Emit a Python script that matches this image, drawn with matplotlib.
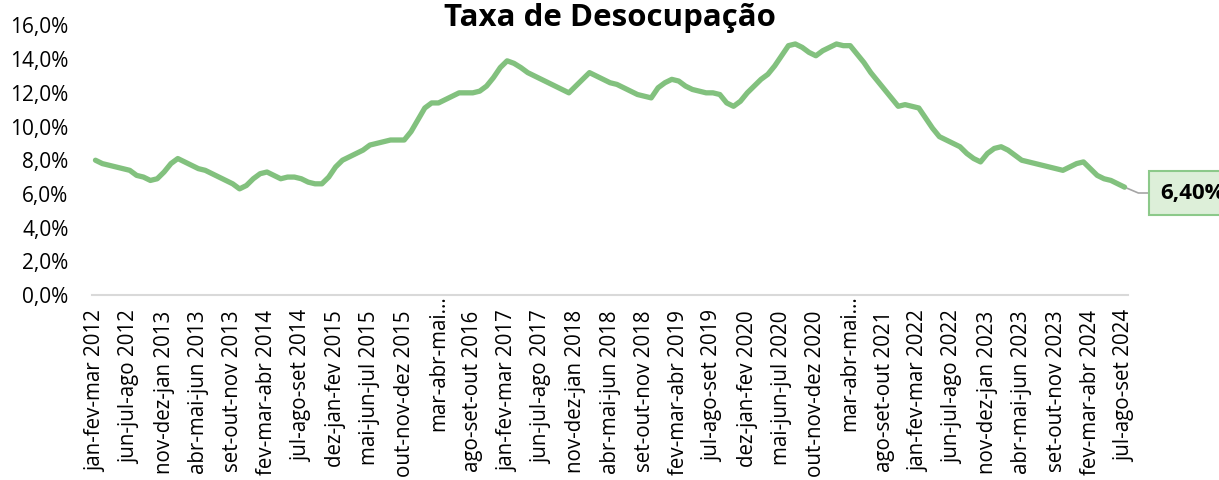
import numpy as np
import matplotlib
matplotlib.use("Agg")
import matplotlib.pyplot as plt
import matplotlib.transforms as mtransforms
from matplotlib.ticker import FuncFormatter

plt.rcParams['font.family'] = ['Open Sans', 'DejaVu Sans']

# taxa de desocupação, trimestres móveis (jan-fev-mar 2012 .. jul-ago-set 2024), em %
taxa = [
    # 2012 (mar..dez)
    8.0, 7.8, 7.7, 7.6, 7.5, 7.4, 7.1, 7.0, 6.8, 6.9,
    # 2013
    7.3, 7.8, 8.1, 7.9, 7.7, 7.5, 7.4, 7.2, 7.0, 6.8, 6.6, 6.3,
    # 2014
    6.5, 6.9, 7.2, 7.3, 7.1, 6.9, 7.0, 7.0, 6.9, 6.7, 6.6, 6.6,
    # 2015
    7.0, 7.6, 8.0, 8.2, 8.4, 8.6, 8.9, 9.0, 9.1, 9.2, 9.2, 9.2,
    # 2016
    9.7, 10.4, 11.1, 11.4, 11.4, 11.6, 11.8, 12.0, 12.0, 12.0, 12.1, 12.4,
    # 2017
    12.9, 13.5, 13.9, 13.75, 13.5, 13.2, 13.0, 12.8, 12.6, 12.4, 12.2, 12.0,
    # 2018
    12.4, 12.8, 13.2, 13.0, 12.8, 12.6, 12.5, 12.3, 12.1, 11.9, 11.8, 11.7,
    # 2019
    12.3, 12.6, 12.8, 12.7, 12.4, 12.2, 12.1, 12.0, 12.0, 11.9, 11.4, 11.2,
    # 2020
    11.5, 12.0, 12.4, 12.8, 13.1, 13.6, 14.2, 14.8, 14.9, 14.7, 14.4, 14.2,
    # 2021
    14.5, 14.7, 14.9, 14.8, 14.8, 14.3, 13.8, 13.2, 12.7, 12.2, 11.7, 11.2,
    # 2022
    11.3, 11.2, 11.1, 10.5, 9.9, 9.4, 9.2, 9.0, 8.8, 8.4, 8.1, 7.9,
    # 2023
    8.4, 8.7, 8.8, 8.6, 8.3, 8.0, 7.9, 7.8, 7.7, 7.6, 7.5, 7.4,
    # 2024 (jan..set)
    7.6, 7.8, 7.9, 7.5, 7.1, 6.9, 6.8, 6.6, 6.4,
]

rotulos = [
    'jan-fev-mar 2012', 'jun-jul-ago 2012', 'nov-dez-jan 2013', 'abr-mai-jun 2013',
    'set-out-nov 2013', 'fev-mar-abr 2014', 'jul-ago-set 2014', 'dez-jan-fev 2015',
    'mai-jun-jul 2015', 'out-nov-dez 2015', 'mar-abr-mai...', 'ago-set-out 2016',
    'jan-fev-mar 2017', 'jun-jul-ago 2017', 'nov-dez-jan 2018', 'abr-mai-jun 2018',
    'set-out-nov 2018', 'fev-mar-abr 2019', 'jul-ago-set 2019', 'dez-jan-fev 2020',
    'mai-jun-jul 2020', 'out-nov-dez 2020', 'mar-abr-mai...', 'ago-set-out 2021',
    'jan-fev-mar 2022', 'jun-jul-ago 2022', 'nov-dez-jan 2023', 'abr-mai-jun 2023',
    'set-out-nov 2023', 'fev-mar-abr 2024', 'jul-ago-set 2024',
]
passo = 5

x = np.arange(len(taxa))

fig = plt.figure(figsize=(12.19, 4.8), dpi=100)
ax = fig.add_axes([0.0755, 0.3854, 0.8499, 0.5616])

ax.plot(x, taxa, color='#82C17E', lw=3.8,
        solid_joinstyle='round', solid_capstyle='round', clip_on=False)

ax.set_xlim(-0.5, len(taxa) - 0.5)
ax.set_ylim(0, 16)
ax.set_yticks(np.arange(0, 17, 2))
ax.yaxis.set_major_formatter(FuncFormatter(lambda v, p: f'{v:.1f}%'.replace('.', ',')))
ax.set_xticks(x[::passo])
ax.set_xticklabels(rotulos, rotation=90)

for s in ['top', 'right', 'left']:
    ax.spines[s].set_visible(False)
ax.spines['bottom'].set_color('#D9D9D9')
ax.spines['bottom'].set_linewidth(1.5)
ax.tick_params(axis='both', length=0, colors='black')
ax.tick_params(axis='x', pad=11, labelsize=14.8)
ax.tick_params(axis='y', pad=17, labelsize=15)

# rótulos truncados ficam colados ao eixo
sobe = mtransforms.ScaledTranslation(0, 11 / 72, fig.dpi_scale_trans)
for lbl in ax.get_xticklabels():
    if lbl.get_text().endswith('...'):
        lbl.set_transform(lbl.get_transform() + sobe)

ultimo = taxa[-1]
ax.annotate(f'{ultimo:.2f}%'.replace('.', ','), xy=(x[-1], ultimo),
            xytext=(1160, 480 - 193), textcoords='figure pixels',
            ha='left', va='center', fontsize=16, fontweight='bold',
            bbox=dict(boxstyle='square,pad=0.5', fc='#DDEFD9', ec='#8CC98A', lw=1.5),
            arrowprops=dict(arrowstyle='-', color='#A5A5A5', lw=1.2, shrinkA=0, shrinkB=2,
                            connectionstyle='angle,angleA=0,angleB=-23,rad=0'),
            annotation_clip=False)

fig.text(0.5, 1 - 18 / 480, 'Taxa de Desocupação', ha='center', va='center',
         fontsize=22.5, fontweight='bold')

fig.savefig('out.png', dpi=100)
